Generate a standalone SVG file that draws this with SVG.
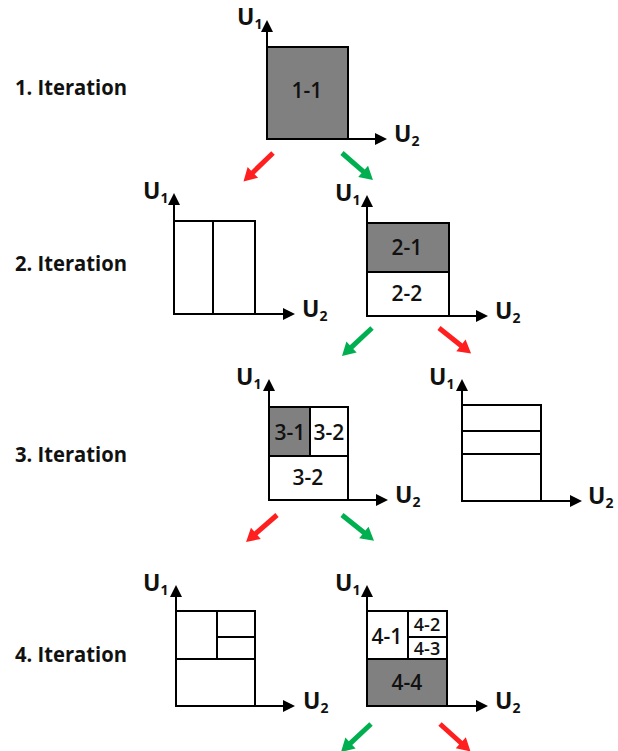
<svg xmlns="http://www.w3.org/2000/svg" width="618" height="751" viewBox="0 0 618 751">
<style>
.bg{fill:#fff}
.box{fill:#fff;stroke:#000;stroke-width:2}
.sh{fill:#808080;stroke:#000;stroke-width:2}
.ln{stroke:#000;stroke-width:2;fill:none}
.ax{stroke:#000;stroke-width:2;fill:none;marker-end:url(#ah)}
.it{font-family:"Open Sans","Liberation Sans",Arial,sans-serif;font-weight:bold;font-size:21px;fill:#111}
.u{font-family:"Open Sans","Liberation Sans",Arial,sans-serif;font-weight:bold;font-size:23px;fill:#111}
.u tspan{font-size:14px}
.lb{font-family:"Open Sans","Liberation Sans",Arial,sans-serif;font-weight:600;font-size:21px;fill:#111;text-anchor:middle}
.sm{font-size:18px}
.red{fill:#ff1f1f}
.grn{fill:#00b050}
</style>
<defs>
<marker id="ah" viewBox="0 -6 12 12" refX="0" refY="0" markerWidth="12" markerHeight="12" markerUnits="userSpaceOnUse" orient="auto">
<path d="M0,-6 L12,0 L0,6 z" fill="#000"/>
</marker>
<path id="arr" d="M0,-2.5 L28,-2.5 L28,-7.5 L41,0 L28,7.5 L28,2.5 L0,2.5 z"/>
</defs>
<rect class="bg" x="0" y="0" width="618" height="751"/>

<g id="labels">
<text class="it" x="15" y="95" textLength="112" lengthAdjust="spacingAndGlyphs">1. Iteration</text>
<text class="it" x="15" y="271" textLength="112" lengthAdjust="spacingAndGlyphs">2. Iteration</text>
<text class="it" x="15" y="462" textLength="112" lengthAdjust="spacingAndGlyphs">3. Iteration</text>
<text class="it" x="15" y="662" textLength="112" lengthAdjust="spacingAndGlyphs">4. Iteration</text>
</g>

<g id="node-1">
<rect class="sh" x="267" y="47" width="81" height="92"/>
<line class="ax" x1="267" y1="139" x2="267" y2="32"/>
<line class="ax" x1="267" y1="139" x2="375" y2="139"/>
<text class="u" x="237" y="25">U<tspan dy="4">1</tspan></text>
<text class="u" x="394" y="142">U<tspan dy="4">2</tspan></text>
<text class="lb" x="307" y="98">1-1</text>
</g>

<g id="node-2a">
<rect class="box" x="174" y="221" width="81" height="93"/>
<line class="ln" x1="213" y1="221" x2="213" y2="314"/>
<line class="ax" x1="174" y1="314" x2="174" y2="205"/>
<line class="ax" x1="174" y1="314" x2="283" y2="314"/>
<text class="u" x="143" y="199">U<tspan dy="4">1</tspan></text>
<text class="u" x="302" y="317">U<tspan dy="4">2</tspan></text>
</g>

<g id="node-2b">
<rect class="box" x="367" y="223" width="82" height="93"/>
<rect class="sh" x="367" y="223" width="82" height="49"/>
<line class="ax" x1="367" y1="316" x2="367" y2="207"/>
<line class="ax" x1="367" y1="316" x2="476" y2="316"/>
<text class="u" x="335" y="201">U<tspan dy="4">1</tspan></text>
<text class="u" x="495" y="319">U<tspan dy="4">2</tspan></text>
<text class="lb" x="407" y="255">2-1</text>
<text class="lb" x="407" y="301">2-2</text>
</g>

<g id="node-3a">
<rect class="box" x="269" y="407" width="79" height="93"/>
<rect class="sh" x="269" y="407" width="41" height="49"/>
<line class="ln" x1="269" y1="456" x2="348" y2="456"/>
<line class="ax" x1="269" y1="500" x2="269" y2="391"/>
<line class="ax" x1="269" y1="500" x2="376" y2="500"/>
<text class="u" x="236" y="385">U<tspan dy="4">1</tspan></text>
<text class="u" x="395" y="503">U<tspan dy="4">2</tspan></text>
<text class="lb" x="290" y="440">3-1</text>
<text class="lb" x="329" y="440">3-2</text>
<text class="lb" x="308" y="485">3-2</text>
</g>

<g id="node-3b">
<rect class="box" x="462" y="405" width="79" height="96"/>
<line class="ln" x1="462" y1="431" x2="541" y2="431"/>
<line class="ln" x1="462" y1="454" x2="541" y2="454"/>
<line class="ax" x1="462" y1="501" x2="462" y2="391"/>
<line class="ax" x1="462" y1="501" x2="570" y2="501"/>
<text class="u" x="429" y="385">U<tspan dy="4">1</tspan></text>
<text class="u" x="588" y="504">U<tspan dy="4">2</tspan></text>
</g>

<g id="node-4a">
<rect class="box" x="176" y="611" width="79" height="95"/>
<line class="ln" x1="176" y1="659" x2="255" y2="659"/>
<line class="ln" x1="217" y1="611" x2="217" y2="659"/>
<line class="ln" x1="217" y1="637" x2="255" y2="637"/>
<line class="ax" x1="176" y1="706" x2="176" y2="597"/>
<line class="ax" x1="176" y1="706" x2="283" y2="706"/>
<text class="u" x="143" y="591">U<tspan dy="4">1</tspan></text>
<text class="u" x="303" y="709">U<tspan dy="4">2</tspan></text>
</g>

<g id="node-4b">
<rect class="box" x="367" y="611" width="80" height="95"/>
<rect class="sh" x="367" y="659" width="80" height="47"/>
<line class="ln" x1="408" y1="611" x2="408" y2="659"/>
<line class="ln" x1="408" y1="637" x2="447" y2="637"/>
<line class="ax" x1="367" y1="706" x2="367" y2="597"/>
<line class="ax" x1="367" y1="706" x2="476" y2="706"/>
<text class="u" x="335" y="591">U<tspan dy="4">1</tspan></text>
<text class="u" x="495" y="709">U<tspan dy="4">2</tspan></text>
<text class="lb" x="387" y="644">4-1</text>
<text class="lb sm" x="427" y="631">4-2</text>
<text class="lb sm" x="427" y="655">4-3</text>
<text class="lb" x="407" y="690">4-4</text>
</g>

<g id="connectors">
<use href="#arr" class="red" transform="translate(273,153) rotate(136)"/>
<use href="#arr" class="grn" transform="translate(342,153) rotate(41)"/>
<use href="#arr" class="grn" transform="translate(372,328) rotate(137)"/>
<use href="#arr" class="red" transform="translate(439,328) rotate(38.5)"/>
<use href="#arr" class="red" transform="translate(277,515) rotate(139)"/>
<use href="#arr" class="grn" transform="translate(342,515) rotate(38.7)"/>
<use href="#arr" class="grn" transform="translate(371,724) rotate(137)"/>
<use href="#arr" class="red" transform="translate(440,724) rotate(42)"/>
</g>
</svg>
